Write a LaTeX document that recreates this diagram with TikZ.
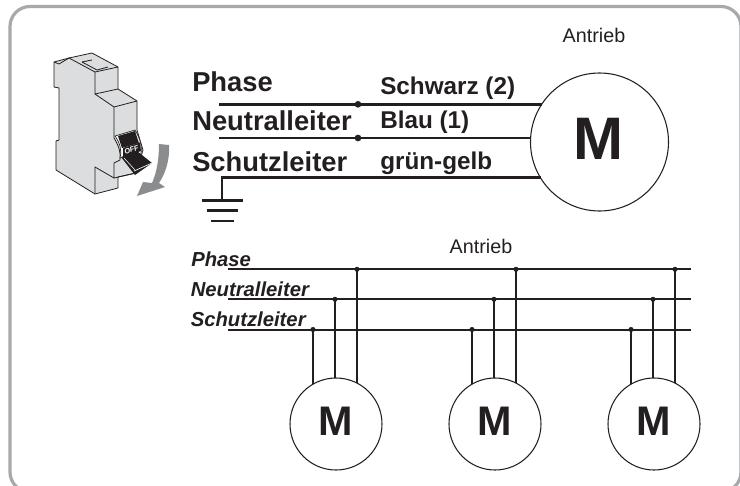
\documentclass[tikz,border=0pt]{standalone}
\usepackage{fontspec}
\setmainfont{Liberation Sans}
\definecolor{ink}{HTML}{231F20}
\definecolor{framegrey}{HTML}{A7A9AC}
\definecolor{bodygrey}{HTML}{DCDDDE}
\definecolor{arrowgrey}{HTML}{8A8C8E}
\tikzset{
  wire/.style={ink,line width=1.9pt},
  thinwire/.style={ink,line width=1.5pt},
  motor/.style={circle,draw=ink,line width=0.8pt,inner sep=0pt},
  biglabel/.style={anchor=base west,font=\bfseries\fontsize{20.5}{24}\selectfont,text=ink,inner sep=0pt},
  midlabel/.style={anchor=base west,font=\bfseries\fontsize{18.2}{21}\selectfont,text=ink,inner sep=0pt},
  itlabel/.style={anchor=base west,font=\bfseries\itshape\fontsize{15.2}{18}\selectfont,text=ink,inner sep=0pt},
  plainlabel/.style={font=\fontsize{14.8}{17}\selectfont,text=ink,inner sep=0pt},
  dotmark/.style={circle,fill=ink,inner sep=0pt,minimum size=5pt},
  smalldot/.style={circle,fill=ink,inner sep=0pt,minimum size=3.8pt},
  body/.style={draw=ink,line width=0.6pt,fill=bodygrey,line join=round},
  edge/.style={draw=ink,line width=0.6pt,line join=round}
}
\begin{document}
\begin{tikzpicture}[x=0.75pt,y=-0.75pt]
\useasboundingbox (0,0) rectangle (740,486);
\clip (0,0) rectangle (740,486);
% frame
\draw[framegrey,line width=2.4pt,rounded corners=15pt] (10,6.5) rectangle (741,492);
% breaker
\path[body] (54,62) -- (69,58) -- (92,53) -- (118,67) -- (118,89) -- (137,101) -- (137,130) -- (143,150) -- (136,173) -- (118,177) -- (118,188) -- (95,194) -- (56,170) -- (56,141) -- (59,140) -- (59,88) -- (54,87) -- cycle;
\draw[edge] (54,62) -- (59,64) -- (69,58);
\draw[edge] (69,58) -- (95,72) -- (118,67);
\draw[edge] (95,72) -- (95,94) -- (118,89);
\draw[edge] (95,94) -- (114,107) -- (137,101);
\draw[edge] (114,107) -- (114,138) .. controls (119,146) and (121,153) .. (120,160) -- (114,163) -- (114,178) -- (95,167) -- (95,194);
\draw[edge] (114,178) -- (136,173);
\draw[edge] (82,62) -- (97,70) -- (108,67);
\draw[edge] (82,62) -- (92,60);
% switch
\path[fill=white,draw=ink,line width=0.5pt] (115,136) .. controls (120,143) and (122,150) .. (120,158) -- (140,156) .. controls (143,150) and (141,140) .. (135,130) -- cycle;
\path[fill=ink] (118,136) -- (135,131) -- (139,143) -- (122,148) -- cycle;
\path[fill=ink] (123,148) -- (140,142.5) -- (141,151) -- (123,157) -- cycle;
\path[fill=ink] (121,157) -- (137,151) -- (152,163) -- (135,175) -- cycle;
\draw[white,line width=0.5pt] (134,171) -- (152,163);
\draw[white,line width=0.4pt] (124,158) -- (135,170);
\node[inner sep=0pt,text=white,rotate=18] (offtext) at (131.5,149.8) {\bfseries\itshape\fontsize{5.5}{5.5}\selectfont OFF};
% grey arrow
\path[fill=arrowgrey] (159,144) -- (169,145) .. controls (170,158) and (166,173) .. (159,183) -- (165,187) -- (137,196) -- (143,182) -- (152,183) .. controls (157,172) and (159,158) .. (159,144) -- cycle;
% upper wiring
\coordinate (p1) at (219,104.3);
\coordinate (n1) at (219,138);
\coordinate (s1) at (222,177.7);
\coordinate (e1) at (222,200.7);
\coordinate (p2) at (541.9,104.3);
\coordinate (n2) at (530.6,138);
\coordinate (s2) at (540.5,177.7);
\draw[wire] (p1) -- (p2);
\draw[wire] (n1) -- (n2);
\draw[wire] (e1) -- (s1) -- (s2);
\node[motor,minimum size=103.5pt] (bigM) at (599.5,142) {};
\node[font=\bfseries\fontsize{45}{48}\selectfont,text=ink,inner sep=0pt] (bigMt) at (598.5,138.5) {M};
\node[dotmark] (dp) at (358,104.3) {};
\node[dotmark] (dn) at (358,138) {};
\coordinate (g1a) at (202,200.7); \coordinate (g1b) at (243,200.7);
\coordinate (g2a) at (207,210.7); \coordinate (g2b) at (238,210.7);
\coordinate (g3a) at (211,221); \coordinate (g3b) at (234,221);
\draw[wire] (g1a) -- (g1b);
\draw[wire] (g2a) -- (g2b);
\draw[wire] (g3a) -- (g3b);
\node[biglabel] (lph) at (192,91.7) {Phase};
\node[biglabel] (lne) at (192,130) {Neutralleiter};
\node[biglabel] (lsc) at (192,171) {Schutzleiter};
\node[midlabel] (ls) at (380,94) {Schwarz (2)};
\node[midlabel] (lb) at (380,128) {Blau (1)};
\node[midlabel] (lg) at (380,169) {grün-gelb};
\node[plainlabel] (a1) at (594,35) {Antrieb};
% lower wiring
\node[plainlabel] (a2) at (481,246) {Antrieb};
\node[itlabel] (ip) at (191,266) {Phase};
\node[itlabel] (in) at (190.5,296) {Neutralleiter};
\node[itlabel] (is) at (190.5,326) {Schutzleiter};
\coordinate (bp1) at (228,269.3); \coordinate (bp2) at (691,269.3);
\coordinate (bn1) at (228,299.3); \coordinate (bn2) at (691,299.3);
\coordinate (bs1) at (228,329.5); \coordinate (bs2) at (691,329.5);
\draw[thinwire] (bp1) -- (bp2);
\draw[thinwire] (bn1) -- (bn2);
\draw[thinwire] (bs1) -- (bs2);
\foreach \mx/\cx in {a/336,b/495,c/654}{
  \node[motor,minimum size=69pt] (m\mx) at (\cx,424) {};
  \node[font=\bfseries\fontsize{31}{33}\selectfont,text=ink,inner sep=0pt] (t\mx) at (\cx-0.5,421.5) {M};
  \node[smalldot] (ts\mx) at (\cx-23,329.5) {};
  \node[smalldot] (tn\mx) at (\cx-1,299.3) {};
  \node[smalldot] (tp\mx) at (\cx+21,269.3) {};
  \coordinate (fs\mx) at (\cx-23,384.2);
  \coordinate (fn\mx) at (\cx-1,378);
  \coordinate (fp\mx) at (\cx+21,383.1);
  \draw[thinwire] (ts\mx.center) -- (fs\mx);
  \draw[thinwire] (tn\mx.center) -- (fn\mx);
  \draw[thinwire] (tp\mx.center) -- (fp\mx);
}
\end{tikzpicture}
\end{document}
